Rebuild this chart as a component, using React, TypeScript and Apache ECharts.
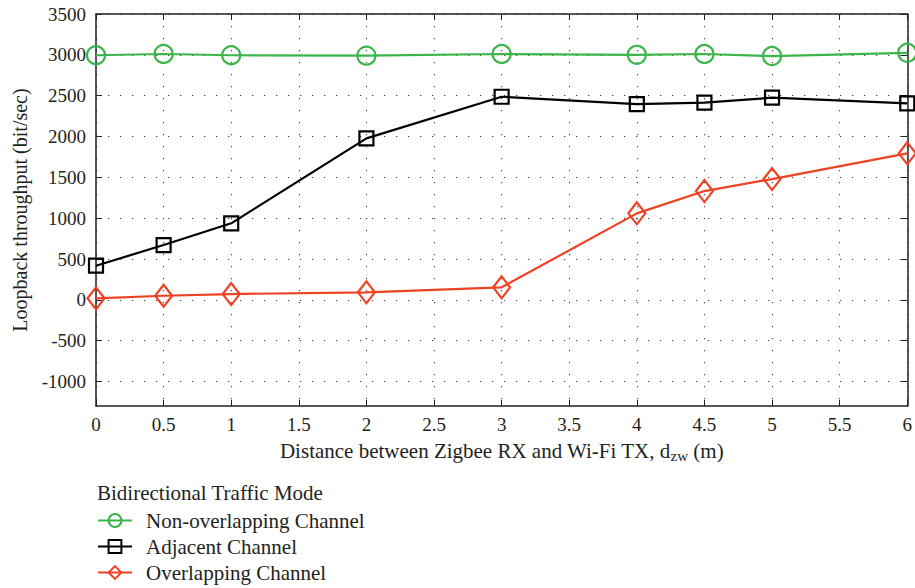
import React, { useEffect, useRef } from "react";
import * as echarts from "echarts";

const distances = [0, 0.5, 1, 2, 3, 4, 4.5, 5, 6];
const nonOverlapping = [2995, 3010, 2995, 2990, 3010, 3000, 3010, 2985, 3025];
const adjacent = [418, 671, 937, 1977, 2487, 2397, 2414, 2475, 2406];
const overlapping = [18, 50, 71, 92, 153, 1059, 1332, 1479, 1794];
const yTicks = [-1000, -500, 0, 500, 1000, 1500, 2000, 2500, 3000, 3500];
const xTicks = [0, 0.5, 1, 1.5, 2, 2.5, 3, 3.5, 4, 4.5, 5, 5.5, 6];
const seriesNames = ["Non-overlapping Channel", "Adjacent Channel", "Overlapping Channel"];

const FONT = "'Liberation Serif', 'DejaVu Serif', serif";
const TXT = "#231f20";
const GREEN = "#3bb54a";
const BLACK = "#000000";
const RED = "#ef4123";

function pairs(ys: number[]) {
  return distances.map((x, i) => [x, ys[i]]);
}

export default function App() {
  const ref = useRef<HTMLDivElement>(null);
  useEffect(() => {
    if (!ref.current) return;
    const chart = echarts.init(ref.current, null, { renderer: "svg" });
    const axisLine = { show: true, onZero: false, lineStyle: { color: "#231f20", width: 1.5 } };
    const tick = { show: true, inside: true, length: 6, lineStyle: { color: "#231f20", width: 1 } };
    const split = { show: true, lineStyle: { color: "#444", width: 1.2, type: [1.2, 10.8] } };
    const mk = (name: string, data: number[], color: string, symbol: string, size: any) => ({
      name,
      type: "line",
      data: pairs(data),
      symbol,
      symbolSize: size,
      showAllSymbol: true,
      lineStyle: { color, width: 2.2 },
      itemStyle: { color: "rgba(255,255,255,0)", borderColor: color, borderWidth: 2.2 },
      emphasis: { disabled: true },
      z: 3,
    });
    const legendTops = [510, 536, 562];
    const legends = seriesNames.map((n, i) => ({
      orient: "vertical",
      left: 97,
      top: legendTops[i],
      padding: 0,
      itemWidth: 34,
      itemHeight: 16,
      data: [n],
      textStyle: { fontFamily: FONT, fontSize: 21, color: TXT, padding: [0, 0, 0, 9] },
    }));
    chart.setOption({
      animation: false,
      title: {
        text: "Bidirectional Traffic Mode",
        left: 92,
        top: 477,
        textStyle: { fontFamily: FONT, fontSize: 21, fontWeight: "normal", color: TXT },
      },
      legend: legends,
      grid: { left: 96, right: 6, top: 14, bottom: 182 },
      xAxis: [
        {
          type: "value",
          min: 0,
          max: 6,
          interval: 0.5,
          position: "bottom",
          axisLine,
          axisTick: tick,
          splitLine: split,
          axisLabel: {
            fontFamily: FONT,
            fontSize: 19,
            color: TXT,
            margin: 9,
            customValues: xTicks,
            formatter: (v: number) => String(v),
          },
          name: "Distance between Zigbee RX and Wi-Fi TX, d{sub|zw} (m)",
          nameLocation: "middle",
          nameGap: 33,
          nameTextStyle: {
            fontFamily: FONT,
            fontSize: 21,
            color: TXT,
            lineHeight: 24,
            rich: { sub: { fontFamily: FONT, fontSize: 15, color: TXT, lineHeight: 15, verticalAlign: "bottom", padding: [9, 0, 0, 0] } },
          },
        },
        {
          type: "value",
          min: 0,
          max: 6,
          interval: 0.5,
          position: "top",
          axisLine,
          axisTick: tick,
          splitLine: { show: false },
          axisLabel: { show: false },
        },
      ],
      yAxis: [
        {
          type: "value",
          min: -1300,
          max: 3500,
          position: "left",
          axisLine,
          axisTick: { ...tick, customValues: yTicks },
          splitLine: split,
          axisLabel: {
            fontFamily: FONT,
            fontSize: 19,
            color: TXT,
            margin: 10,
            customValues: yTicks,
            formatter: (v: number) => String(v),
          },
          name: "Loopback throughput (bit/sec)",
          nameLocation: "middle",
          nameGap: 66,
          nameTextStyle: { fontFamily: FONT, fontSize: 20, color: TXT },
        },
        {
          type: "value",
          min: -1300,
          max: 3500,
          position: "right",
          axisLine,
          axisTick: { ...tick, customValues: yTicks },
          splitLine: { show: false },
          axisLabel: { show: false },
        },
      ],
      series: [
        mk(seriesNames[0], nonOverlapping, GREEN, "circle", 18),
        mk(seriesNames[1], adjacent, BLACK, "rect", 14),
        mk(seriesNames[2], overlapping, RED, "diamond", [17, 22]),
      ],
    });
    return () => chart.dispose();
  }, []);
  return <div ref={ref} style={{ width: 915, height: 588, position: "absolute", left: 0, top: 0 }} />;
}
